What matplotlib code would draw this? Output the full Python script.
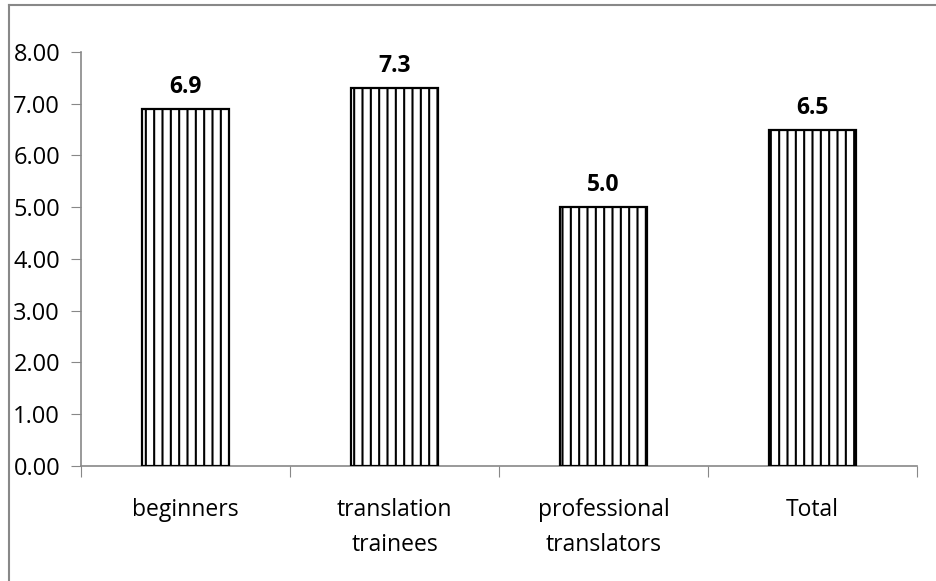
import matplotlib
matplotlib.use("Agg")
import matplotlib.pyplot as plt
from matplotlib.lines import Line2D

categories = ["beginners", "translation\ntrainees", "professional\ntranslators", "Total"]
values = [6.9, 7.3, 5.0, 6.5]
yticks = [0, 1, 2, 3, 4, 5, 6, 7, 8]

plt.rcParams['font.family'] = ['Open Sans', 'DejaVu Sans']
plt.rcParams['hatch.linewidth'] = 1.5

fig = plt.figure(figsize=(9.36, 5.81), dpi=100)
ax = fig.add_axes([81/936, 1-465.6/581, (917-81)/936, (465.6-52)/581])

x = list(range(len(categories)))
bars = ax.bar(x, values, width=0.42, color='white', edgecolor='black',
              hatch='||', linewidth=1.6, zorder=3)

for xi, v in zip(x, values):
    ax.annotate(f"{v:.1f}", (xi, v), xytext=(0, 7), textcoords='offset points',
                ha='center', va='bottom', fontsize=16.5, fontweight='bold')

ax.set_xlim(-0.5, len(categories) - 0.5)
ax.set_ylim(0, 8)
ax.set_yticks(yticks)
ax.set_yticklabels([f"{t:.2f}" for t in yticks], fontsize=17)
ax.tick_params(axis='y', length=7, color='#888888', pad=8)
ax.set_xticks([i + 0.5 for i in range(-1, len(categories))], minor=False)
ax.set_xticklabels([])
ax.tick_params(axis='x', which='major', length=8, color='#888888')
ax.set_xticks(x, minor=True)
ax.set_xticklabels(categories, minor=True, fontsize=16.5, linespacing=1.65)
ax.tick_params(axis='x', which='minor', length=0, pad=23)

for s in ['top', 'right']:
    ax.spines[s].set_visible(False)
for s in ['left', 'bottom']:
    ax.spines[s].set_color('#888888')
    ax.spines[s].set_linewidth(1.2)

# chart area border (top and left edges visible)
fig.add_artist(Line2D([9/936, 9/936], [0, 1-5/581], transform=fig.transFigure,
                      color='#888888', linewidth=1.5))
fig.add_artist(Line2D([9/936, 1], [1-5/581, 1-5/581], transform=fig.transFigure,
                      color='#888888', linewidth=1.5))

fig.savefig("out.png", dpi=100)
